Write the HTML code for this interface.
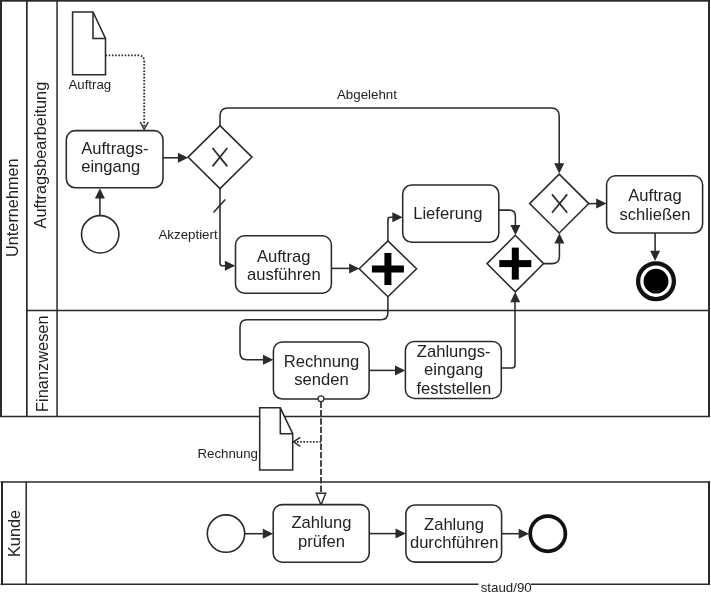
<!DOCTYPE html>
<html><head><meta charset="utf-8"><title>BPMN</title>
<style>
html,body{margin:0;padding:0;background:#fff;}
svg{display:block;will-change:transform;}
text{font-family:"Liberation Sans",sans-serif;fill:#222;}
</style></head>
<body>
<svg width="711" height="595" viewBox="0 0 711 595">
<rect width="711" height="595" fill="#fff"/>
<rect x="0" y="0" width="710" height="1.7" fill="#2a2a2a"/>
<rect x="0" y="0" width="2" height="417" fill="#2a2a2a"/>
<rect x="708" y="0" width="2" height="417" fill="#2a2a2a"/>
<line x1="0" y1="416.5" x2="710" y2="416.5" stroke="#2a2a2a" stroke-width="1.5" />
<rect x="26.0" y="0" width="1.7" height="416.5" fill="#2a2a2a"/>
<rect x="56.3" y="0" width="1.5" height="416.5" fill="#2a2a2a"/>
<line x1="26.7" y1="310.4" x2="709" y2="310.4" stroke="#2a2a2a" stroke-width="1.5" />
<line x1="0.5" y1="482" x2="710" y2="482" stroke="#2a2a2a" stroke-width="1.5" />
<line x1="0.5" y1="584.3" x2="710" y2="584.3" stroke="#2a2a2a" stroke-width="1.5" />
<rect x="1.0" y="481.3" width="2" height="103.8" fill="#2a2a2a"/>
<rect x="708" y="481.3" width="2" height="103.8" fill="#2a2a2a"/>
<line x1="26.2" y1="482" x2="26.2" y2="584.3" stroke="#2a2a2a" stroke-width="1.5" />
<text transform="translate(17.7,257) rotate(-90)" font-size="16.3">Unternehmen</text>
<text transform="translate(46.3,228.4) rotate(-90)" font-size="16.3">Auftragsbearbeitung</text>
<text transform="translate(48.1,412) rotate(-90)" font-size="16.4">Finanzwesen</text>
<text transform="translate(20.0,557) rotate(-90)" font-size="16.3">Kunde</text>
<line x1="99.9" y1="216" x2="99.9" y2="196" stroke="#2a2a2a" stroke-width="1.55" />
<polygon points="99.90,188.20 94.90,198.50 104.90,198.50" fill="#2a2a2a"/>
<line x1="163" y1="157.8" x2="180" y2="157.8" stroke="#2a2a2a" stroke-width="1.55" />
<polygon points="188.20,157.80 177.90,152.80 177.90,162.80" fill="#2a2a2a"/>
<path d="M220,126 V115.9 Q220,107.9 228,107.9 H551.2 Q559.2,107.9 559.2,115.9 V165" fill="none" stroke="#2a2a2a" stroke-width="1.55" />
<polygon points="559.20,173.60 554.20,163.30 564.20,163.30" fill="#2a2a2a"/>
<path d="M220,188 V263.5 Q220,265.7 222.2,265.7 H227" fill="none" stroke="#2a2a2a" stroke-width="1.55" />
<polygon points="235.20,265.70 224.90,260.70 224.90,270.70" fill="#2a2a2a"/>
<line x1="213.5" y1="212.6" x2="225.3" y2="199.4" stroke="#2a2a2a" stroke-width="1.55" />
<line x1="331.4" y1="268.4" x2="351" y2="268.4" stroke="#2a2a2a" stroke-width="1.55" />
<polygon points="359.40,268.40 349.10,263.40 349.10,273.40" fill="#2a2a2a"/>
<path d="M387.9,241.5 V219.7 Q387.9,217.2 390.4,217.2 H394" fill="none" stroke="#2a2a2a" stroke-width="1.55" />
<polygon points="402.60,217.20 392.30,212.20 392.30,222.20" fill="#2a2a2a"/>
<path d="M498.8,210.1 H509.4 Q515.4,210.1 515.4,216.1 V227" fill="none" stroke="#2a2a2a" stroke-width="1.55" />
<polygon points="515.40,235.20 510.40,224.90 520.40,224.90" fill="#2a2a2a"/>
<path d="M543.5,263.6 H552.4 Q559.4,263.6 559.4,256.6 V241" fill="none" stroke="#2a2a2a" stroke-width="1.55" />
<polygon points="559.40,233.20 554.40,243.50 564.40,243.50" fill="#2a2a2a"/>
<line x1="588.8" y1="203.6" x2="598" y2="203.6" stroke="#2a2a2a" stroke-width="1.55" />
<polygon points="606.50,203.60 596.20,198.60 596.20,208.60" fill="#2a2a2a"/>
<line x1="655.1" y1="233" x2="655.1" y2="252" stroke="#2a2a2a" stroke-width="1.55" />
<polygon points="655.10,261.00 650.10,250.70 660.10,250.70" fill="#2a2a2a"/>
<path d="M387.9,296.5 V312.8 Q387.9,319.8 380.9,319.8 H247 Q240,319.8 240,326.8 V352.8 Q240,359.8 247,359.8 H265" fill="none" stroke="#2a2a2a" stroke-width="1.55" />
<polygon points="273.30,359.80 263.00,354.80 263.00,364.80" fill="#2a2a2a"/>
<line x1="369.1" y1="370.4" x2="397" y2="370.4" stroke="#2a2a2a" stroke-width="1.55" />
<polygon points="405.30,370.40 395.00,365.40 395.00,375.40" fill="#2a2a2a"/>
<path d="M501.3,367.9 H512 Q515,367.9 515,364.9 V300" fill="none" stroke="#2a2a2a" stroke-width="1.55" />
<polygon points="515.20,291.90 510.20,302.20 520.20,302.20" fill="#2a2a2a"/>
<line x1="244.7" y1="533.7" x2="265" y2="533.7" stroke="#2a2a2a" stroke-width="1.55" />
<polygon points="273.10,533.70 262.80,528.70 262.80,538.70" fill="#2a2a2a"/>
<line x1="369.2" y1="533.6" x2="398" y2="533.6" stroke="#2a2a2a" stroke-width="1.55" />
<polygon points="405.80,533.60 395.50,528.60 395.50,538.60" fill="#2a2a2a"/>
<line x1="501.6" y1="533.7" x2="521" y2="533.7" stroke="#2a2a2a" stroke-width="1.55" />
<polygon points="529.00,533.70 518.70,528.70 518.70,538.70" fill="#2a2a2a"/>
<line x1="321.0" y1="401.5" x2="321.0" y2="493.5" stroke="#2a2a2a" stroke-width="1.7" stroke-dasharray="6.4 2"/>
<polygon points="321.0,505 316.3,493.3 325.7,493.3" fill="#fff" stroke="#2a2a2a" stroke-width="1.4"/>
<path d="M105.5,55.4 H138.2 Q144.2,55.4 144.2,61.4 V128" fill="none" stroke="#2a2a2a" stroke-width="1.8" stroke-dasharray="1.6 1.6"/>
<path d="M140.2,122 L144.2,129.3 L148.2,122" fill="none" stroke="#2a2a2a" stroke-width="1.4" />
<path d="M321,441.8 H294" fill="none" stroke="#2a2a2a" stroke-width="1.8" stroke-dasharray="1.6 1.6"/>
<path d="M300.3,437.3 L293.4,441.8 L300.3,446.3" fill="none" stroke="#2a2a2a" stroke-width="1.4" />
<rect x="66.3" y="130.6" width="96.70" height="57.20" rx="9" ry="9" fill="#fff" stroke="#2a2a2a" stroke-width="1.55"/>
<rect x="235.5" y="235.8" width="95.90" height="57.40" rx="9" ry="9" fill="#fff" stroke="#2a2a2a" stroke-width="1.55"/>
<rect x="402.7" y="185.0" width="96.10" height="57.30" rx="9" ry="9" fill="#fff" stroke="#2a2a2a" stroke-width="1.55"/>
<rect x="606.6" y="175.8" width="96.00" height="57.20" rx="9" ry="9" fill="#fff" stroke="#2a2a2a" stroke-width="1.55"/>
<rect x="273.4" y="341.9" width="95.70" height="57.10" rx="9" ry="9" fill="#fff" stroke="#2a2a2a" stroke-width="1.55"/>
<rect x="405.4" y="341.4" width="95.90" height="57.00" rx="9" ry="9" fill="#fff" stroke="#2a2a2a" stroke-width="1.55"/>
<rect x="273.2" y="504.6" width="96.00" height="57.60" rx="9" ry="9" fill="#fff" stroke="#2a2a2a" stroke-width="1.55"/>
<rect x="405.9" y="505.0" width="95.70" height="57.10" rx="9" ry="9" fill="#fff" stroke="#2a2a2a" stroke-width="1.55"/>
<text x="81.2" y="153.7" font-size="16.6" text-anchor="start" >Auftrags-</text>
<text x="81.2" y="172.4" font-size="16.6" text-anchor="start" >eingang</text>
<text x="283.7" y="261.5" font-size="16.6" text-anchor="middle" >Auftrag</text>
<text x="283.9" y="279.7" font-size="16.6" text-anchor="middle" >ausführen</text>
<text x="447.8" y="218.6" font-size="16.6" text-anchor="middle" >Lieferung</text>
<text x="655" y="201.1" font-size="16.6" text-anchor="middle" >Auftrag</text>
<text x="655" y="219.5" font-size="16.6" text-anchor="middle" >schließen</text>
<text x="321.5" y="366.8" font-size="16.6" text-anchor="middle" >Rechnung</text>
<text x="321.4" y="385.1" font-size="16.6" text-anchor="middle" >senden</text>
<text x="453.7" y="356.6" font-size="16.6" text-anchor="middle" >Zahlungs-</text>
<text x="453.6" y="374.9" font-size="16.6" text-anchor="middle" >eingang</text>
<text x="453.8" y="393.8" font-size="16.6" text-anchor="middle" >feststellen</text>
<text x="321.4" y="528.4" font-size="16.6" text-anchor="middle" >Zahlung</text>
<text x="321.5" y="547.0" font-size="16.6" text-anchor="middle" >prüfen</text>
<text x="454" y="529.5" font-size="16.6" text-anchor="middle" >Zahlung</text>
<text x="454.2" y="548.1" font-size="16.6" text-anchor="middle" >durchführen</text>
<circle cx="321.0" cy="398.7" r="2.9" fill="#fff" stroke="#2a2a2a" stroke-width="1.3"/>
<path d="M72.6,12 H93 L105.5,38.5 V74.7 H72.6 Z" fill="#fff" stroke="#2a2a2a" stroke-width="1.55" />
<path d="M93,12 V38.5 H105.5" fill="none" stroke="#2a2a2a" stroke-width="1.55" />
<path d="M259.7,407.8 H280.3 L292.7,433.7 V469.9 H259.7 Z" fill="#fff" stroke="#2a2a2a" stroke-width="1.55" />
<path d="M280.3,407.8 V433.7 H292.7" fill="none" stroke="#2a2a2a" stroke-width="1.55" />
<circle cx="100.2" cy="234.3" r="18.7" fill="#fff" stroke="#2a2a2a" stroke-width="1.6"/>
<circle cx="226" cy="533.6" r="18.7" fill="#fff" stroke="#2a2a2a" stroke-width="1.6"/>
<circle cx="656" cy="281.2" r="17.9" fill="#fff" stroke="#111" stroke-width="4.3"/>
<circle cx="656" cy="281.2" r="12.4" fill="#000"/>
<circle cx="547.8" cy="533.7" r="17.6" fill="#fff" stroke="#111" stroke-width="3.7"/>
<polygon points="188,157.1 220,125.6 252,157.1 220,188.6" fill="#fff" stroke="#2a2a2a" stroke-width="1.55"/>
<polygon points="359.2,268.8 387.9,240.9 416.59999999999997,268.8 387.9,296.7" fill="#fff" stroke="#2a2a2a" stroke-width="1.55"/>
<polygon points="486.99999999999994,263.6 515.3,235.3 543.5999999999999,263.6 515.3,291.90000000000003" fill="#fff" stroke="#2a2a2a" stroke-width="1.55"/>
<polygon points="529.6,203.6 559.2,174.2 588.8000000000001,203.6 559.2,233.0" fill="#fff" stroke="#2a2a2a" stroke-width="1.55"/>
<line x1="212.5" y1="148.0" x2="227.3" y2="166.39999999999998" stroke="#2a2a2a" stroke-width="1.7" />
<line x1="212.5" y1="166.39999999999998" x2="227.3" y2="148.0" stroke="#2a2a2a" stroke-width="1.7" />
<line x1="552.0" y1="194.4" x2="567.2" y2="212.79999999999998" stroke="#2a2a2a" stroke-width="1.7" />
<line x1="552.0" y1="212.79999999999998" x2="567.2" y2="194.4" stroke="#2a2a2a" stroke-width="1.7" />
<rect x="371.9" y="265.5" width="32" height="7" fill="#000"/>
<rect x="384.4" y="253.0" width="7" height="32" fill="#000"/>
<rect x="499.29999999999995" y="260.1" width="32" height="7" fill="#000"/>
<rect x="511.79999999999995" y="247.60000000000002" width="7" height="32" fill="#000"/>
<text x="68.4" y="88.6" font-size="13.3" text-anchor="start" >Auftrag</text>
<text x="337" y="98.5" font-size="13.3" text-anchor="start" >Abgelehnt</text>
<text x="158.5" y="238.7" font-size="13.3" text-anchor="start" >Akzeptiert</text>
<text x="197.4" y="458.2" font-size="13.3" text-anchor="start" >Rechnung</text>
<rect x="478.4" y="580" width="52.4" height="15" fill="#fff"/>
<text x="480.7" y="591.6" font-size="13.3" text-anchor="start" >staud/90</text>
</svg>
</body></html>
